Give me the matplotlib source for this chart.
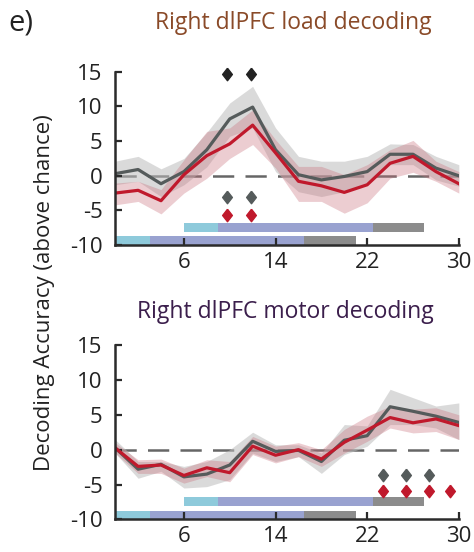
import numpy as np
import matplotlib
matplotlib.use("Agg")
import matplotlib.pyplot as plt

plt.rcParams['font.family'] = ['Open Sans', 'DejaVu Sans']

# time bins (s)
t = [0, 2, 4, 6, 8, 10, 12, 14, 16, 18, 20, 22, 24, 26, 28, 30]

# load decoding
load_gray = [0.3, 0.9, -1.15, 0.6, 3.75, 8.2, 9.9, 3.75, 0.15, -0.6, -0.1, 0.6, 3.1, 3.1, 1.1, 0.0]
load_gray_hi = [2.1, 2.8, 1.0, 2.5, 6.25, 10.5, 12.9, 6.9, 2.8, 2.1, 2.1, 2.8, 4.6, 4.5, 2.8, 1.6]
load_gray_lo = [-1.3, -0.8, -3.0, -1.3, 1.3, 5.7, 6.9, 0.6, -2.3, -3.0, -2.3, -1.3, 1.6, 1.6, -0.6, -1.5]
load_red = [-2.5, -2.1, -3.6, 0.15, 2.9, 4.6, 7.3, 3.3, -0.8, -1.45, -2.4, -1.3, 1.8, 2.8, 0.6, -1.15]
load_red_hi = [-1.05, -0.8, -2.0, 2.3, 6.4, 6.9, 9.5, 5.2, 1.35, 1.35, 0.15, 1.6, 3.75, 5.1, 2.1, 0.6]
load_red_lo = [-4.2, -3.7, -5.5, -2.5, -0.35, 2.5, 4.5, 1.1, -3.7, -3.7, -5.4, -3.9, -0.35, 0.5, -0.8, -2.5]

# motor decoding
motor_gray = [0.25, -2.8, -2.1, -3.9, -3.5, -2.2, 1.2, -0.25, -0.1, -1.7, 1.35, 2.0, 6.15, 5.5, 4.8, 3.9]
motor_gray_hi = [1.45, -1.7, -1.7, -2.4, -1.7, 0.0, 2.5, 0.7, 0.7, -0.5, 3.6, 3.4, 8.65, 7.45, 6.25, 6.7]
motor_gray_lo = [-0.5, -4.1, -3.1, -5.5, -5.3, -4.3, -0.5, -1.7, -1.0, -3.4, -0.7, 0.5, 3.6, 3.6, 3.1, 1.45]
motor_red = [0.25, -2.4, -2.2, -3.7, -2.6, -3.3, 0.5, -0.8, 0.0, -1.35, 1.05, 2.8, 4.6, 3.85, 4.4, 3.45]
motor_red_hi = [1.0, -1.45, -1.35, -2.65, -1.45, -1.7, 1.9, 0.5, 1.0, 0.0, 2.9, 4.8, 6.25, 5.8, 6.0, 5.0]
motor_red_lo = [-0.5, -3.4, -3.4, -4.8, -3.85, -4.6, -0.7, -1.9, -1.0, -2.4, -0.5, 1.2, 3.1, 2.4, 2.6, 1.45]

# significance markers: (x positions, y level)
load_sig_top = ([9.8, 11.85], 14.7)
load_sig_gray = ([9.8, 11.85], -3.0)
load_sig_red = ([9.8, 11.85], -5.6)
motor_sig_gray = ([23.4, 25.4, 27.4], -3.6)
motor_sig_red = ([23.4, 25.4, 27.4, 29.2], -5.9)

# trial epochs (cue, delay, response) for the two alignments
epochs_early = [0, 3, 16.5, 21]
epochs_late = [6, 9, 22.5, 27]
epoch_colors = ['#8ecadb', '#99a2d0', '#8c8c8c']

GRAY = '#555b5b'
RED = '#c0192c'
DIAMOND = [(0, 1), (0.78, 0), (0, -1), (-0.78, 0), (0, 1)]


def draw_epochs(ax, edges, y0, h):
    for i in range(3):
        ax.barh(y0 + h / 2, edges[i + 1] - edges[i], left=edges[i], height=h,
                color=epoch_colors[i], edgecolor='none', zorder=1)


def draw_panel(ax, gray, ghi, glo, red, rhi, rlo):
    # chance level sits under the shaded error bands
    ax.axhline(0, color='#666666', lw=1.8, dashes=(8.5, 4.5), zorder=0.5)
    ax.fill_between(t, glo, ghi, color='#bdbdbd', alpha=0.55, lw=0, zorder=1)
    ax.fill_between(t, rlo, rhi, color='#c9707c', alpha=0.35, lw=0, zorder=1)
    ax.plot(t, gray, color=GRAY, lw=2.3, zorder=3)
    ax.plot(t, red, color=RED, lw=2.3, zorder=4)

    draw_epochs(ax, epochs_late, -8.1, 1.25)
    draw_epochs(ax, epochs_early, -10, 1.25)

    ax.set_xlim(0, 30)
    ax.set_ylim(-10, 15)
    ax.set_xticks([6, 14, 22, 30])
    ax.set_yticks([15, 10, 5, 0, -5, -10])
    ax.set_yticklabels(['15', '10', '5', '0', '-5', '-10'])
    for s in ['top', 'right']:
        ax.spines[s].set_visible(False)
    for s in ['left', 'bottom']:
        ax.spines[s].set_linewidth(1.8)
        ax.spines[s].set_color('#2b2b2b')
        ax.spines[s].set_zorder(6)
    ax.tick_params(direction='in', length=5, width=1.6, color='#2b2b2b',
                   labelsize=16, labelcolor='#222222')
    ax.tick_params(axis='y', pad=9)
    ax.tick_params(axis='x', pad=5)
    ax.set_axisbelow(False)


fig = plt.figure(figsize=(4.74, 5.52), dpi=100)
ax1 = fig.add_axes([0.243, 0.556, 0.725, 0.314])
ax2 = fig.add_axes([0.243, 0.059, 0.725, 0.316])

draw_panel(ax1, load_gray, load_gray_hi, load_gray_lo, load_red, load_red_hi, load_red_lo)
draw_panel(ax2, motor_gray, motor_gray_hi, motor_gray_lo, motor_red, motor_red_hi, motor_red_lo)

mk = dict(marker=DIAMOND, ms=9, ls='none', zorder=5, clip_on=False)
ax1.plot(load_sig_top[0], [load_sig_top[1]] * len(load_sig_top[0]), color='#222222', **mk)
ax1.plot(load_sig_gray[0], [load_sig_gray[1]] * len(load_sig_gray[0]), color=GRAY, **mk)
ax1.plot(load_sig_red[0], [load_sig_red[1]] * len(load_sig_red[0]), color=RED, **mk)
ax2.plot(motor_sig_gray[0], [motor_sig_gray[1]] * len(motor_sig_gray[0]), color=GRAY, **mk)
ax2.plot(motor_sig_red[0], [motor_sig_red[1]] * len(motor_sig_red[0]), color=RED, **mk)

fig.text(0.618, 0.958, 'Right dlPFC load decoding', color='#8a4a28',
         fontsize=16.5, ha='center', va='center')
fig.text(0.603, 0.434, 'Right dlPFC motor decoding', color='#3b1e4c',
         fontsize=16.5, ha='center', va='center')
fig.text(0.093, 0.47, 'Decoding Accuracy (above chance)', rotation=90,
         ha='center', va='center', fontsize=16, color='#222222')
fig.text(0.018, 0.958, 'e)', fontsize=21, color='#222222', ha='left', va='center')

fig.savefig('out.png', dpi=100)
